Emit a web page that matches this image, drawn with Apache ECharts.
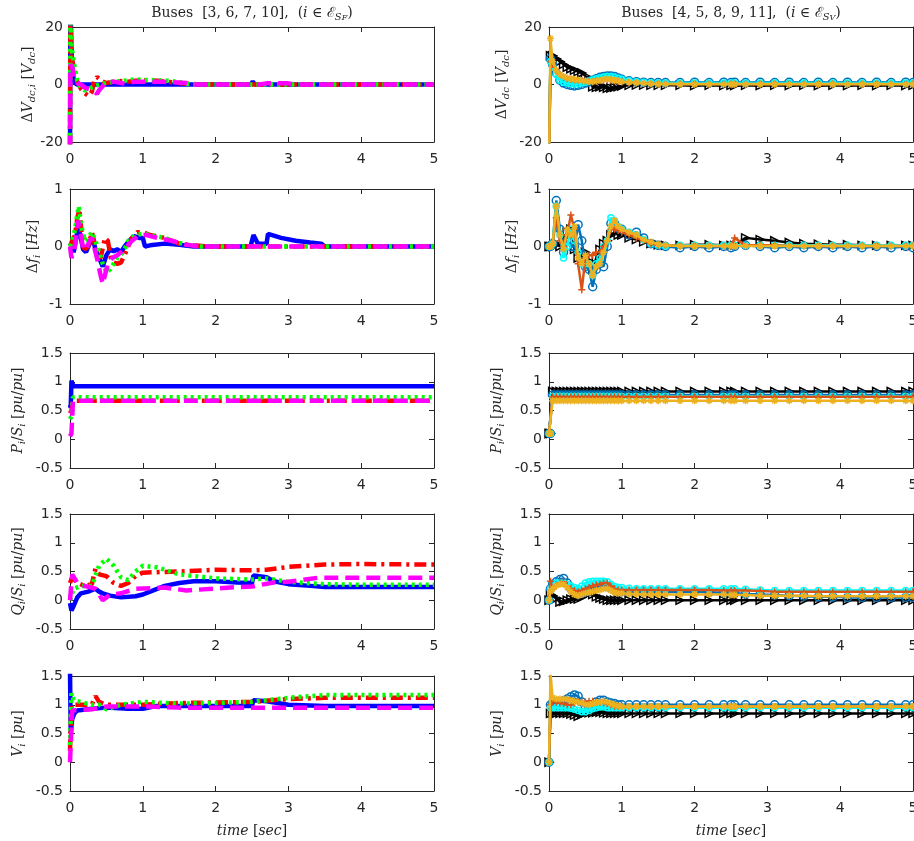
<!DOCTYPE html>
<html>
<head>
<meta charset="utf-8">
<script src="https://cdn.jsdelivr.net/npm/echarts@6/dist/echarts.min.js"></script>
<style>
  html, body { margin: 0; padding: 0; background: #fff; }
  #chart { width: 914px; height: 841px; }
</style>
</head>
<body>
<div id="chart"></div>
<script>
// ---- left column: buses [3, 6, 7, 10], pairs of [time, value] ----
const dvLBlue = [[0,-30],[0.005,30],[0.02,12],[0.04,3],[0.07,0.5],[0.1,0],[1,0],[2.48,0],[2.51,1],[2.54,0],[5,0]];
const dvLRed = [[0,-30],[0.005,25],[0.02,10],[0.05,6],[0.1,1],[0.15,-1.5],[0.2,-3],[0.26,-4],[0.3,-2.5],[0.33,1],[0.37,2.6],[0.4,2],[0.45,1],[0.5,0.5],[0.6,1],[0.7,1.2],[0.8,1],[0.9,1.3],[1.0,1.5],[1.2,1.3],[1.4,0.8],[1.6,0.3],[1.8,0],[5,0]];
const dvLGreen = [[0,-30],[0.005,25],[0.02,13],[0.04,10],[0.07,5],[0.1,1.5],[0.15,-1],[0.2,-2],[0.25,-2],[0.3,-1],[0.35,-0.5],[0.4,0],[0.5,0.5],[0.6,1],[0.7,1.2],[0.8,1.5],[0.9,1.8],[1.0,1.6],[1.2,1.5],[1.4,1.2],[1.5,0.8],[1.6,0.2],[1.8,0],[5,0]];
const dvLMag = [[0,-30],[0.005,7],[0.03,6],[0.06,2],[0.1,0.5],[0.15,0],[0.2,-1],[0.3,-2],[0.37,-3.2],[0.4,-2],[0.45,-0.5],[0.5,0.5],[0.6,1],[0.7,0.5],[0.75,0.3],[0.8,0.6],[0.9,1],[1.0,1],[1.2,1],[1.4,0.8],[1.6,0.5],[1.7,0],[2.6,0],[2.7,0.4],[3.0,0.4],[3.1,0],[5,0]];

const dfLBlue = [[0,0],[0.02,0.05],[0.05,-0.1],[0.08,0.1],[0.11,0.35],[0.14,0.2],[0.18,-0.05],[0.22,-0.1],[0.27,0.05],[0.31,0.15],[0.35,-0.05],[0.4,-0.2],[0.45,-0.35],[0.5,-0.15],[0.55,-0.05],[0.6,-0.08],[0.65,-0.05],[0.7,-0.1],[0.75,0.0],[0.8,0.08],[0.88,0.18],[0.95,0.15],[1.0,0.15],[1.03,0.0],[1.1,0.02],[1.3,0.05],[1.5,0.03],[1.7,0],[2.48,0],[2.52,0.2],[2.58,0.05],[2.7,0.05],[2.72,0.22],[2.9,0.15],[3.1,0.1],[3.3,0.07],[3.45,0.05],[3.5,0],[5,0]];
const dfLRed = [[0,0],[0.03,0.1],[0.07,0.2],[0.1,0.5],[0.13,0.65],[0.16,0.2],[0.2,-0.05],[0.25,0.0],[0.3,0.25],[0.33,0.1],[0.37,-0.15],[0.42,-0.2],[0.48,0.15],[0.52,0.1],[0.56,-0.2],[0.6,-0.28],[0.65,-0.3],[0.7,-0.28],[0.75,-0.15],[0.8,0.0],[0.85,0.15],[0.92,0.25],[1.0,0.25],[1.1,0.2],[1.3,0.15],[1.5,0.05],[1.7,0.02],[1.9,0],[5,0]];
const dfLGreen = [[0,0],[0.03,0.1],[0.07,0.3],[0.1,0.55],[0.12,0.7],[0.15,0.4],[0.2,0.1],[0.25,0.15],[0.3,0.25],[0.35,0.1],[0.4,-0.1],[0.45,-0.3],[0.5,-0.45],[0.55,-0.4],[0.6,-0.3],[0.65,-0.2],[0.7,-0.15],[0.75,-0.05],[0.8,0.1],[0.9,0.2],[1.0,0.22],[1.1,0.2],[1.3,0.15],[1.45,0.08],[1.6,0.03],[1.8,0],[5,0]];
const dfLMag = [[0,0],[0.02,-0.2],[0.05,-0.1],[0.08,0.1],[0.11,0.45],[0.14,0.3],[0.18,-0.05],[0.22,-0.05],[0.27,0.1],[0.3,0.15],[0.34,-0.05],[0.38,-0.25],[0.42,-0.5],[0.45,-0.65],[0.48,-0.5],[0.52,-0.3],[0.58,-0.2],[0.65,-0.15],[0.7,-0.1],[0.78,0.0],[0.85,0.1],[0.95,0.2],[1.05,0.2],[1.2,0.15],[1.4,0.1],[1.6,0.03],[1.8,0],[5,0]];

const pLBlue = [[0,0.6],[0.01,0.55],[0.02,1.02],[0.03,0.98],[0.05,0.92],[5,0.92]];
const pLRed = [[0,0.45],[0.02,0.5],[0.04,0.67],[5,0.67]];
const pLGreen = [[0,0.35],[0.02,0.4],[0.04,0.73],[5,0.73]];
const pLMag = [[0,0.05],[0.02,0.1],[0.04,0.67],[5,0.67]];

const qLBlue = [[0,-0.05],[0.02,-0.18],[0.05,-0.1],[0.1,0.05],[0.15,0.12],[0.25,0.15],[0.35,0.2],[0.4,0.15],[0.45,0.12],[0.55,0.08],[0.7,0.05],[0.9,0.07],[1.0,0.1],[1.1,0.15],[1.3,0.25],[1.5,0.3],[1.7,0.33],[2.0,0.33],[2.3,0.31],[2.5,0.3],[2.52,0.43],[2.7,0.4],[2.8,0.33],[3.0,0.28],[3.3,0.25],[3.5,0.23],[5,0.23]];
const qLRed = [[0,0.3],[0.03,0.4],[0.1,0.3],[0.2,0.25],[0.3,0.28],[0.35,0.55],[0.4,0.45],[0.5,0.42],[0.6,0.3],[0.7,0.25],[0.8,0.3],[0.9,0.42],[1.0,0.48],[1.5,0.5],[2.0,0.53],[2.5,0.52],[2.7,0.53],[3.0,0.58],[3.5,0.62],[4.0,0.63],[5,0.62]];
const qLGreen = [[0,0],[0.05,0.2],[0.15,0.25],[0.3,0.25],[0.4,0.6],[0.5,0.72],[0.6,0.6],[0.7,0.4],[0.8,0.35],[0.9,0.5],[1.0,0.6],[1.2,0.57],[1.5,0.45],[2.0,0.38],[2.5,0.36],[2.7,0.38],[3.0,0.32],[3.5,0.28],[4.0,0.27],[5,0.27]];
const qLMag = [[0,0],[0.03,0.45],[0.1,0.3],[0.2,0.25],[0.35,0.2],[0.45,0.0],[0.55,0.1],[0.7,0.12],[0.9,0.2],[1.3,0.22],[1.6,0.17],[2.3,0.23],[2.5,0.24],[2.8,0.31],[3.0,0.32],[3.4,0.39],[4.0,0.39],[5,0.39]];

const vLBlue = [[0,1.6],[0.01,0.5],[0.03,0.75],[0.06,0.85],[0.1,0.9],[0.3,0.93],[0.5,0.95],[0.8,0.93],[1.0,0.93],[1.2,0.98],[1.5,0.98],[2.0,0.98],[2.5,0.98],[2.52,1.08],[2.7,1.06],[3.0,1.0],[3.5,0.98],[5,0.98]];
const vLRed = [[0,0.2],[0.02,1.0],[0.1,1.0],[0.3,1.0],[0.35,1.15],[0.4,1.05],[0.5,1.0],[1.0,1.0],[1.5,1.03],[2.0,1.04],[2.5,1.05],[3.0,1.1],[3.5,1.12],[5,1.12]];
const vLGreen = [[0,0.3],[0.02,1.2],[0.05,1.08],[0.3,1.0],[0.4,1.0],[0.5,0.92],[0.7,1.0],[1.0,1.05],[1.5,1.02],[2,1.03],[2.5,1.05],[3.0,1.12],[3.5,1.17],[5,1.17]];
const vLMag = [[0,0.0],[0.03,0.9],[0.3,0.92],[0.5,0.97],[1.0,0.97],[1.5,0.95],[2.0,0.95],[2.5,0.95],[3.0,0.95],[5,0.95]];

// ---- right column: buses [4, 5, 8, 9, 11], sampled on a shared time vector ----
const tR = [0, 0.02, 0.05, 0.1, 0.15, 0.2, 0.25, 0.3, 0.35, 0.4, 0.45, 0.5, 0.55, 0.6, 0.65, 0.7, 0.75, 0.8, 0.85, 0.9, 0.95, 1.0,
  1.1, 1.2, 1.3, 1.4, 1.5, 1.6,
  1.8, 2.0, 2.2, 2.4, 2.5, 2.55, 2.7, 2.9, 3.1, 3.3, 3.5, 3.7, 3.9, 4.1, 4.3, 4.5, 4.7, 4.9, 5.0];

const dvRBlack = [-30, 10, 10, 9, 8, 7, 6, 5.5, 5, 4.5, 4, 3, 1, -0.8, -1, -0.8, -1, -1.3, -1.2, -1, -0.8, -0.5,
  -0.3, -0.2, -0.2, -0.3, -0.3, -0.3,
  -0.3, -0.4, -0.3, -0.4, -0.3, -0.4, -0.3, -0.4, -0.3, -0.4, -0.3, -0.4, -0.3, -0.4, -0.3, -0.4, -0.3, -0.4, -0.3];
const dvRBlue = [-30, 9, 7, 4, 1.5, 0.5, 0, -0.3, -0.5, -0.3, 0, 0.5, 1, 1.5, 2, 2.5, 2.8, 3, 3, 2.8, 2.3, 1.8,
  1.3, 1, 0.8, 0.7, 0.7, 0.7,
  0.7, 0.8, 0.7, 0.8, 0.7, 0.8, 0.7, 0.8, 0.7, 0.8, 0.7, 0.8, 0.7, 0.8, 0.7, 0.8, 0.7, 0.8, 0.7];
const dvRCyan = [-30, 8, 6, 3.5, 1.5, 0.8, 0.5, 0.3, 0.2, 0.3, 0.5, 0.8, 1.2, 1.6, 2, 2.3, 2.6, 2.8, 2.8, 2.5, 2.2, 1.8,
  1.3, 1.0, 0.8, 0.6, 0.5, 0.5,
  0.5, 0.5, 0.5, 0.5, 0.5, 0.5, 0.5, 0.5, 0.5, 0.5, 0.5, 0.5, 0.5, 0.5, 0.5, 0.5, 0.5, 0.5, 0.5];
const dvROrange = [-30, 8, 7, 5, 3.5, 2.5, 2, 1.8, 1.6, 1.5, 1.4, 1.2, 1.1, 1.0, 1.2, 1.4, 1.6, 1.6, 1.5, 1.3, 1.1, 1.0,
  0.8, 0.6, 0.4, 0.3, 0.2, 0.2,
  0.2, 0.2, 0.2, 0.2, 0.2, 0.2, 0.2, 0.2, 0.2, 0.2, 0.2, 0.2, 0.2, 0.2, 0.2, 0.2, 0.2, 0.2, 0.2];
const dvRYellow = [-30, 16, 8, 5, 3.5, 2.8, 2.3, 2, 1.8, 1.6, 1.4, 1.2, 1.0, 1.0, 1.2, 1.5, 1.8, 2, 1.8, 1.5, 1.2, 1.0,
  0.8, 0.6, 0.4, 0.3, 0.2, 0.2,
  0.1, 0.1, 0.1, 0.1, 0.1, 0.1, 0.1, 0.1, 0.1, 0.1, 0.1, 0.1, 0.1, 0.1, 0.1, 0.1, 0.1, 0.1, 0.1];

const dfRBlack = [0, 0, 0, 0.05, 0.0, 0.15, 0.25, 0.3, -0.05, -0.2, -0.15, -0.1, -0.25, -0.4, -0.2, -0.05, 0.05, 0.1, 0.2, 0.25, 0.2, 0.2,
  0.15, 0.12, 0.08, 0.05, 0.03, 0.02,
  0.02, 0.03, 0.03, 0.02, 0.02, 0.02, 0.15, 0.12, 0.1, 0.07, 0.05, 0.04, 0.03, 0.03, 0.02, 0.02, 0.02, 0.02, 0.02];
const dfRBlue = [0, 0, 0.05, 0.8, 0.3, -0.1, 0.1, 0.0, 0.0, 0.38, 0.1, -0.35, -0.4, -0.7, -0.4, -0.3, -0.35, 0.0, 0.4, 0.4, 0.32, 0.3,
  0.2, 0.25, 0.15, 0.05, 0.02, 0.0,
  -0.02, 0.0, -0.02, 0.0, -0.02, 0.0, 0.02, 0.0, -0.02, 0.0, -0.02, 0.0, -0.02, 0.0, -0.02, 0.0, -0.02, 0.0, -0.02];
const dfRCyan = [0, 0, 0.05, 0.7, 0.2, -0.2, 0.0, 0.3, 0.1, -0.1, -0.3, -0.3, -0.3, -0.5, -0.3, -0.2, 0.0, 0.1, 0.5, 0.45, 0.35, 0.3,
  0.25, 0.2, 0.12, 0.05, 0.02, 0.01,
  0.02, 0.02, 0.02, 0.02, 0.02, 0.02, 0.02, 0.02, 0.02, 0.02, 0.02, 0.02, 0.02, 0.02, 0.02, 0.02, 0.02, 0.02, 0.02];
const dfROrange = [0, 0, 0.05, 0.5, 0.1, 0.0, 0.2, 0.55, 0.3, -0.3, -0.75, -0.2, -0.15, -0.15, -0.1, -0.1, 0.0, 0.1, 0.3, 0.3, 0.28, 0.25,
  0.2, 0.15, 0.1, 0.05, 0.02, 0.02,
  0.01, 0.01, 0.01, 0.01, 0.0, 0.15, 0.02, 0.02, 0.02, 0.01, 0.01, 0.01, 0.01, 0.01, 0.01, 0.01, 0.01, 0.01, 0.01];
const dfRYellow = [0, 0, 0.05, 0.7, 0.2, -0.05, 0.3, 0.2, 0.35, -0.2, -0.3, -0.15, -0.3, -0.5, -0.35, -0.3, -0.1, 0.1, 0.35, 0.45, 0.35, 0.3,
  0.25, 0.2, 0.12, 0.08, 0.04, 0.02,
  0.01, 0.01, 0.01, 0.01, 0.01, 0.01, 0.01, 0.01, 0.01, 0.01, 0.01, 0.01, 0.01, 0.01, 0.01, 0.01, 0.01, 0.01, 0.01];

const pRBlack = [0.1, 0.1, 0.83, 0.83, 0.83, 0.83, 0.83, 0.83, 0.83, 0.83, 0.83, 0.83, 0.83, 0.83, 0.83, 0.83, 0.83, 0.83, 0.83, 0.83, 0.83, 0.83,
  0.83, 0.83, 0.83, 0.83, 0.83, 0.83,
  0.83, 0.83, 0.83, 0.83, 0.83, 0.83, 0.83, 0.83, 0.83, 0.83, 0.83, 0.83, 0.83, 0.83, 0.83, 0.83, 0.83, 0.83, 0.83];
const pRBlue = [0.1, 0.1, 0.77, 0.77, 0.77, 0.77, 0.77, 0.77, 0.77, 0.77, 0.77, 0.77, 0.77, 0.77, 0.77, 0.77, 0.77, 0.77, 0.77, 0.77, 0.77, 0.77,
  0.77, 0.77, 0.77, 0.77, 0.77, 0.77,
  0.77, 0.77, 0.77, 0.77, 0.77, 0.77, 0.77, 0.77, 0.77, 0.77, 0.77, 0.77, 0.77, 0.77, 0.77, 0.77, 0.77, 0.77, 0.77];
const pRCyan = [0.1, 0.1, 0.75, 0.75, 0.75, 0.75, 0.75, 0.75, 0.75, 0.75, 0.75, 0.75, 0.75, 0.75, 0.75, 0.75, 0.75, 0.75, 0.75, 0.75, 0.75, 0.75,
  0.75, 0.75, 0.75, 0.75, 0.75, 0.75,
  0.75, 0.75, 0.75, 0.75, 0.75, 0.75, 0.75, 0.75, 0.75, 0.75, 0.75, 0.75, 0.75, 0.75, 0.75, 0.75, 0.75, 0.75, 0.75];
const pROrange = [0.1, 0.1, 0.74, 0.74, 0.74, 0.74, 0.74, 0.74, 0.74, 0.74, 0.74, 0.74, 0.74, 0.74, 0.74, 0.74, 0.74, 0.74, 0.74, 0.74, 0.74, 0.74,
  0.74, 0.74, 0.74, 0.74, 0.74, 0.74,
  0.74, 0.74, 0.74, 0.74, 0.74, 0.74, 0.74, 0.74, 0.74, 0.74, 0.74, 0.74, 0.74, 0.74, 0.74, 0.74, 0.74, 0.74, 0.74];
const pRYellow = [0.1, 0.1, 0.67, 0.67, 0.67, 0.67, 0.67, 0.67, 0.67, 0.67, 0.67, 0.67, 0.67, 0.67, 0.67, 0.67, 0.67, 0.67, 0.67, 0.67, 0.67, 0.67,
  0.67, 0.67, 0.67, 0.67, 0.67, 0.67,
  0.67, 0.67, 0.67, 0.67, 0.67, 0.67, 0.67, 0.67, 0.67, 0.67, 0.67, 0.67, 0.67, 0.67, 0.67, 0.67, 0.67, 0.67, 0.67];

const qRBlack = [0, 0.1, 0.08, 0.03, -0.03, -0.02, 0.0, 0.02, 0.02, 0.02, 0.05, 0.1, 0.12, 0.1, 0.06, 0.04, 0.02, 0.0, 0.0, 0.0, 0.0, 0.0,
  0, 0, 0, 0, 0, 0,
  0, 0, 0, 0, 0, 0, 0, 0, 0, 0, 0, 0, 0, 0, 0, 0, 0, 0, 0];
const qRBlue = [0, 0.2, 0.28, 0.32, 0.36, 0.38, 0.3, 0.2, 0.15, 0.1, 0.12, 0.15, 0.18, 0.2, 0.22, 0.25, 0.25, 0.25, 0.22, 0.18, 0.15, 0.15,
  0.15, 0.15, 0.15, 0.15, 0.15, 0.15,
  0.15, 0.15, 0.14, 0.13, 0.12, 0.12, 0.11, 0.1, 0.09, 0.08, 0.07, 0.06, 0.06, 0.05, 0.05, 0.05, 0.05, 0.05, 0.05];
const qRCyan = [0, 0.2, 0.28, 0.3, 0.3, 0.3, 0.28, 0.25, 0.22, 0.2, 0.25, 0.3, 0.32, 0.33, 0.33, 0.33, 0.33, 0.32, 0.28, 0.24, 0.22, 0.22,
  0.21, 0.2, 0.2, 0.2, 0.2, 0.2,
  0.2, 0.2, 0.2, 0.2, 0.2, 0.2, 0.19, 0.18, 0.17, 0.17, 0.17, 0.17, 0.17, 0.17, 0.17, 0.17, 0.17, 0.17, 0.17];
const qROrange = [0, 0.33, 0.2, 0.25, 0.3, 0.32, 0.25, 0.2, 0.17, 0.15, 0.17, 0.2, 0.22, 0.25, 0.27, 0.28, 0.3, 0.3, 0.25, 0.2, 0.18, 0.18,
  0.18, 0.18, 0.18, 0.18, 0.18, 0.18,
  0.18, 0.18, 0.18, 0.17, 0.17, 0.17, 0.17, 0.16, 0.15, 0.15, 0.15, 0.15, 0.15, 0.15, 0.15, 0.15, 0.15, 0.15, 0.15];
const qRYellow = [0, 0.15, 0.2, 0.25, 0.28, 0.28, 0.22, 0.15, 0.1, 0.08, 0.1, 0.12, 0.14, 0.15, 0.17, 0.18, 0.2, 0.2, 0.17, 0.14, 0.12, 0.12,
  0.11, 0.11, 0.1, 0.1, 0.1, 0.1,
  0.1, 0.1, 0.1, 0.1, 0.09, 0.09, 0.09, 0.08, 0.08, 0.08, 0.08, 0.07, 0.07, 0.07, 0.07, 0.07, 0.07, 0.07, 0.07];

const vRBlack = [0, 0.85, 0.85, 0.85, 0.85, 0.85, 0.85, 0.84, 0.82, 0.8, 0.83, 0.86, 0.86, 0.86, 0.87, 0.87, 0.86, 0.85, 0.85, 0.85, 0.85, 0.85,
  0.85, 0.85, 0.85, 0.85, 0.85, 0.85,
  0.85, 0.85, 0.85, 0.85, 0.85, 0.85, 0.85, 0.85, 0.85, 0.85, 0.85, 0.85, 0.85, 0.85, 0.85, 0.85, 0.85, 0.85, 0.85];
const vRBlue = [0, 1.0, 1.02, 1.03, 1.05, 1.07, 1.1, 1.14, 1.17, 1.15, 1.05, 0.95, 0.95, 1.0, 1.05, 1.08, 1.08, 1.05, 1.03, 1.02, 1.0, 1.0,
  1.0, 1.0, 1.0, 1.0, 1.0, 1.0,
  1.0, 1.0, 1.0, 1.0, 1.0, 1.0, 1.0, 1.0, 1.0, 1.0, 1.0, 1.0, 1.0, 1.0, 1.0, 1.0, 1.0, 1.0, 1.0];
const vRCyan = [0, 0.95, 0.95, 0.95, 0.95, 0.95, 0.95, 0.94, 0.92, 0.9, 0.88, 0.88, 0.9, 0.93, 0.95, 0.96, 0.96, 0.95, 0.95, 0.95, 0.95, 0.95,
  0.95, 0.95, 0.95, 0.95, 0.95, 0.95,
  0.95, 0.95, 0.95, 0.95, 0.95, 0.95, 0.95, 0.95, 0.95, 0.95, 0.95, 0.95, 0.95, 0.95, 0.95, 0.95, 0.95, 0.95, 0.95];
const vROrange = [0, 1.0, 1.05, 1.05, 1.03, 1.02, 1.0, 1.0, 1.03, 1.05, 1.05, 1.05, 1.06, 1.06, 1.05, 1.04, 1.03, 1.02, 1.0, 0.98, 0.97, 0.97,
  0.97, 0.97, 0.97, 0.97, 0.97, 0.97,
  0.97, 0.97, 0.97, 0.97, 0.97, 0.97, 0.97, 0.97, 0.97, 0.97, 0.97, 0.97, 0.97, 0.97, 0.97, 0.97, 0.97, 0.97, 0.97];
const vRYellow = [0, 1.55, 1.12, 1.1, 1.1, 1.1, 1.1, 1.08, 1.06, 1.05, 1.03, 1.0, 1.0, 1.02, 1.04, 1.05, 1.06, 1.05, 1.02, 1.0, 0.98, 0.97,
  0.97, 0.97, 0.97, 0.97, 0.97, 0.97,
  0.97, 0.97, 0.97, 0.97, 0.97, 0.97, 0.97, 0.97, 0.97, 0.97, 0.97, 0.97, 0.97, 0.97, 0.97, 0.97, 0.97, 0.97, 0.97];

// axis ranges per row
const yMin = [-20, -1, -0.5, -0.5, -0.5];
const yMax = [20, 1, 1.5, 1.5, 1.5];
const yStep = [20, 1, 0.5, 0.5, 0.5];

// titles and axis names (rich text: u upright, i italic, s subscript, ss sub-subscript)
const titles = [
  '{u|Buses  [3, 6, 7, 10],  (}{i|i}{u| ∈ ℰ}{s|S}{ss|F}{u|)}',
  '{u|Buses  [4, 5, 8, 9, 11],  (}{i|i}{u| ∈ ℰ}{s|S}{ss|V}{u|)}',
];
const yNames = [
  ['{u|Δ}{i|V}{s|dc,i}{u| [}{i|V}{s|dc}{u|]}', '{u|Δ}{i|V}{s|dc}{u| [}{i|V}{s|dc}{u|]}'],
  ['{u|Δ}{i|f}{s|i}{u| [}{i|Hz}{u|]}', '{u|Δ}{i|f}{s|i}{u| [}{i|Hz}{u|]}'],
  ['{i|P}{s|i}{u|/}{i|S}{s|i}{u| [}{i|pu}{u|/}{i|pu}{u|]}', '{i|P}{s|i}{u|/}{i|S}{s|i}{u| [}{i|pu}{u|/}{i|pu}{u|]}'],
  ['{i|Q}{s|i}{u|/}{i|S}{s|i}{u| [}{i|pu}{u|/}{i|pu}{u|]}', '{i|Q}{s|i}{u|/}{i|S}{s|i}{u| [}{i|pu}{u|/}{i|pu}{u|]}'],
  ['{i|V}{s|i}{u| [}{i|pu}{u|]}', '{i|V}{s|i}{u| [}{i|pu}{u|]}'],
];
const xName = '{i|time }{u|[}{i|sec}{u|]}';

const leftData = [
  [dvLBlue, dvLRed, dvLGreen, dvLMag],
  [dfLBlue, dfLRed, dfLGreen, dfLMag],
  [pLBlue, pLRed, pLGreen, pLMag],
  [qLBlue, qLRed, qLGreen, qLMag],
  [vLBlue, vLRed, vLGreen, vLMag],
];
const rightData = [
  [dvRBlack, dvRBlue, dvRCyan, dvROrange, dvRYellow],
  [dfRBlack, dfRBlue, dfRCyan, dfROrange, dfRYellow],
  [pRBlack, pRBlue, pRCyan, pROrange, pRYellow],
  [qRBlack, qRBlue, qRCyan, qROrange, qRYellow],
  [vRBlack, vRBlue, vRCyan, vROrange, vRYellow],
];

// ---- styles / layout ----
const INK = '#262626';
const SANS = '"DejaVu Sans", "Liberation Sans", sans-serif';
const SERIF = '"DejaVu Serif", "Liberation Serif", serif';

const TRI_R = 'path://M0,0L10,5L0,10Z';
const PLUS = 'path://M5,0V10M0,5H10';
const STAR = 'path://M5,0V10M0,5H10M1.5,1.5L8.5,8.5M8.5,1.5L1.5,8.5';

const leftStyles = [
  { color: '#0000FF', type: 'solid' },
  { color: '#FF0000', type: [12, 5, 3, 5] },
  { color: '#00FF00', type: [3, 4] },
  { color: '#FF00FF', type: [14, 7] },
];
const rightStyles = [
  { color: '#000000', symbol: TRI_R, size: 8 },
  { color: '#0072BD', symbol: 'circle', size: 8 },
  { color: '#00FFFF', symbol: 'circle', size: 6 },
  { color: '#D95319', symbol: PLUS, size: 7 },
  { color: '#EDB120', symbol: STAR, size: 7 },
];

const colX = [70, 549];
const rowY = [27, 189, 353, 514, 676];
const plotW = 364;
const plotH = 115;
const nameGapY = [[33, 38], [28, 28], [43, 43], [43, 43], [43, 43]];

function richSet(size) {
  return {
    u: { fontFamily: SERIF, fontWeight: 'normal', fontSize: size, lineHeight: 18, color: INK },
    i: { fontFamily: SERIF, fontWeight: 'normal', fontStyle: 'italic', fontSize: size, lineHeight: 18, color: INK },
    s: { fontFamily: SERIF, fontWeight: 'normal', fontStyle: 'italic', fontSize: size - 4, lineHeight: 10, verticalAlign: 'bottom', color: INK },
    ss: { fontFamily: SERIF, fontWeight: 'normal', fontStyle: 'italic', fontSize: size - 6, lineHeight: 6, verticalAlign: 'bottom', color: INK },
  };
}

const grids = [];
const xAxes = [];
const yAxes = [];
const series = [];

const lineAxis = { show: true, onZero: false, lineStyle: { color: INK, width: 1 } };
const tick = { show: true, inside: true, length: 5, lineStyle: { color: INK, width: 1 } };
const tickLabel = { fontFamily: SANS, fontSize: 14, color: INK };

for (let r = 0; r < 5; r++) {
  for (let c = 0; c < 2; c++) {
    const g = grids.length;
    grids.push({ left: colX[c], top: rowY[r], width: plotW, height: plotH, outerBoundsMode: 'none' });

    const xBase = { type: 'value', gridIndex: g, min: 0, max: 5, interval: 1, axisLine: lineAxis, axisTick: tick, splitLine: { show: false } };
    xAxes.push(Object.assign({}, xBase, {
      position: 'bottom',
      axisLabel: Object.assign({ margin: 10 }, tickLabel),
      name: r === 4 ? xName : '',
      nameLocation: 'middle',
      nameGap: 31,
      nameTextStyle: { rich: richSet(14) },
    }));
    xAxes.push(Object.assign({}, xBase, { position: 'top', axisLabel: { show: false } }));

    const yBase = { type: 'value', gridIndex: g, min: yMin[r], max: yMax[r], interval: yStep[r], axisLine: lineAxis, axisTick: tick, splitLine: { show: false } };
    yAxes.push(Object.assign({}, yBase, {
      position: 'left',
      axisLabel: Object.assign({ margin: 7 }, tickLabel),
      name: yNames[r][c],
      nameLocation: 'middle',
      nameRotate: 90,
      nameGap: nameGapY[r][c],
      nameMoveOverlap: false,
      nameTextStyle: { rich: richSet(14) },
    }));
    yAxes.push(Object.assign({}, yBase, { position: 'right', axisLabel: { show: false } }));

    if (c === 0) {
      leftData[r].forEach((d, k) => {
        const st = leftStyles[k];
        series.push({
          type: 'line', xAxisIndex: 2 * g, yAxisIndex: 2 * g, data: d,
          symbol: 'none', showSymbol: false, silent: true, z: 2 + k,
          lineStyle: { color: st.color, width: 4.5, type: st.type, cap: 'butt' },
        });
      });
    } else {
      rightData[r].forEach((vals, k) => {
        const st = rightStyles[k];
        series.push({
          type: 'line', xAxisIndex: 2 * g, yAxisIndex: 2 * g,
          data: tR.map((t, i) => [t, vals[i]]),
          symbol: st.symbol, symbolSize: st.size, symbolKeepAspect: true,
          showSymbol: true, showAllSymbol: true, silent: true, z: 2 + k,
          lineStyle: { color: st.color, width: 2.5 },
          itemStyle: { color: 'rgba(0,0,0,0)', borderColor: st.color, borderWidth: 1.5 },
        });
      });
    }
  }
}

const chart = echarts.init(document.getElementById('chart'), null, { renderer: 'canvas' });
chart.setOption({
  backgroundColor: '#ffffff',
  animation: false,
  title: titles.map((t, c) => ({
    text: t,
    left: colX[c] + plotW / 2,
    top: 4,
    textAlign: 'center',
    padding: 0,
    textStyle: { fontWeight: 'normal', rich: richSet(14) },
  })),
  grid: grids,
  xAxis: xAxes,
  yAxis: yAxes,
  series: series,
});
</script>
</body>
</html>
